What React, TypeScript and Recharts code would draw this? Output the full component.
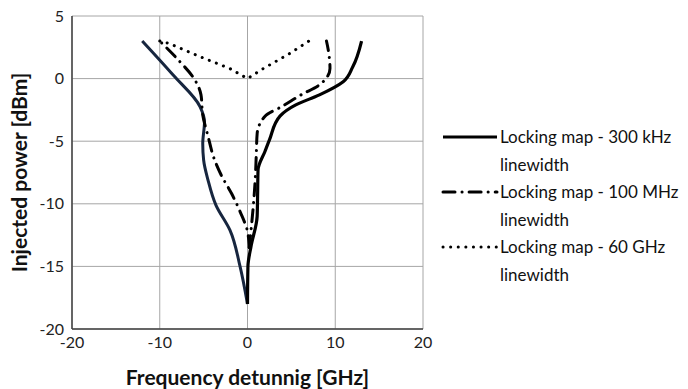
import { ScatterChart, Scatter, XAxis, YAxis, CartesianGrid } from 'recharts';

// x = frequency detuning [GHz], y = injected power [dBm]
const solidLeftX = [0, -0.85, -2.0, -3.6, -4.5, -5.0, -5.1, -4.9, -5.4, -8.5, -12.0];
const solidLeftY = [-18, -15, -12.1, -10.1, -8.1, -6.5, -5.2, -3.45, -2.25, 0.3, 3];
const solidRightX = [0, 0.05, 0.4, 1.1, 1.15, 1.2, 2.0, 2.5, 3.7, 5.5, 8.2, 10.9, 12.0, 13.0];
const solidRightY = [-18, -15, -13.4, -11, -9.4, -7.3, -5.8, -4.9, -3, -2.1, -1.3, -0.25, 0.95, 3];
const dashLeftX = [0.2, 0, -0.8, -1.8, -3.0, -3.8, -4.5, -5.1, -5.3, -6.0, -7.9, -10.0];
const dashLeftY = [-13.5, -12.2, -10.7, -9.2, -7.7, -6.4, -4.6, -2.9, -1.3, -0.1, 1.5, 3];
const dashRightX = [0.2, 0.9, 1.0, 1.1, 2.0, 4.0, 6.1, 8.2, 9.4, 9.2, 9.0];
const dashRightY = [-13.5, -7.8, -6.1, -4.4, -3.0, -2.2, -1.3, -0.5, 0.8, 2.3, 3];
const dotX = [-10, -8.9, -5.4, -2.0, 0, 1.8, 4.8, 7.0];
const dotY = [3, 2.8, 1.75, 0.8, 0, 0.8, 2.0, 3];

const xTicks = [-20, -10, 0, 10, 20];
const yTicks = [-20, -15, -10, -5, 0, 5];

const legendItems = [
  { name: 'Locking map - 300 kHz', dash: undefined },
  { name: 'Locking map - 100 MHz', dash: '12 7 0.1 7' },
  { name: 'Locking map - 60 GHz', dash: '0.1 7.5' },
];

const zip = (xs: number[], ys: number[]) => xs.map((x, i) => ({ x, y: ys[i] }));

const solidLeft = zip(solidLeftX, solidLeftY);
const solidRight = zip(solidRightX, solidRightY);
const dashLeft = zip(dashLeftX, dashLeftY);
const dashRight = zip(dashRightX, dashRightY);
const dots = zip(dotX, dotY);

const font = 'Lato, "Open Sans", sans-serif';

const LegendBox = () => (
  <div style={{ position: 'absolute', left: 440, top: 123, width: 248, fontFamily: font, fontSize: 17, color: '#111', lineHeight: '27.5px' }}>
    {legendItems.map((it) => (
      <div key={it.name} style={{ display: 'flex', alignItems: 'flex-start' }}>
        <svg width={60} height={27.5} style={{ flex: 'none' }}>
          <line
            x1={3}
            y1={14}
            x2={57}
            y2={14}
            stroke="#000"
            strokeWidth={3}
            strokeDasharray={it.dash}
            strokeLinecap={it.dash ? 'round' : 'butt'}
          />
        </svg>
        <div>
          {it.name}
          <br />
          linewidth
        </div>
      </div>
    ))}
  </div>
);

const noShape = () => <g />;

export default function App() {
  return (
    <div style={{ position: 'absolute', left: 0, top: 0, width: 688, height: 389, background: '#fff' }}>
      <ScatterChart width={688} height={389} margin={{ top: 16, right: 265, bottom: 0, left: 0 }}>
        <CartesianGrid stroke="#a6a6a6" strokeWidth={1} />
        <XAxis
          type="number"
          dataKey="x"
          domain={[-20, 20]}
          ticks={xTicks}
          interval={0}
          tickLine={false}
          axisLine={{ stroke: '#404040', strokeWidth: 1.5 }}
          tick={{ fill: '#222', fontSize: 16, fontFamily: font }}
          height={60}
          label={{ value: 'Frequency detunnig [GHz]', position: 'insideBottom', offset: 4, fill: '#111', fontSize: 21, fontWeight: 'bold', fontFamily: font }}
        />
        <YAxis
          type="number"
          dataKey="y"
          domain={[-20, 5]}
          ticks={yTicks}
          interval={0}
          tickLine={false}
          axisLine={{ stroke: '#404040', strokeWidth: 1.5 }}
          tick={{ fill: '#222', fontSize: 16, fontFamily: font }}
          width={72}
          label={{ value: 'Injected power [dBm]', angle: -90, position: 'insideLeft', offset: 20, style: { textAnchor: 'middle' }, fill: '#111', fontSize: 21, fontWeight: 'bold', fontFamily: font }}
        />
        <Scatter data={solidLeft} fill="#17263f" shape={noShape} isAnimationActive={false} lineJointType="monotoneY"
          line={{ stroke: '#17263f', strokeWidth: 3 }} />
        <Scatter data={solidRight} fill="#000" shape={noShape} isAnimationActive={false} lineJointType="monotoneY"
          line={{ stroke: '#000', strokeWidth: 3.2 }} />
        <Scatter data={dashLeft} fill="#000" shape={noShape} isAnimationActive={false} lineJointType="monotoneY"
          line={{ stroke: '#000', strokeWidth: 3, strokeDasharray: '12 7 0.1 7', strokeLinecap: 'round' }} />
        <Scatter data={dashRight} fill="#000" shape={noShape} isAnimationActive={false} lineJointType="monotoneY"
          line={{ stroke: '#000', strokeWidth: 3, strokeDasharray: '12 7 0.1 7', strokeLinecap: 'round' }} />
        <Scatter data={dots} fill="#000" shape={noShape} isAnimationActive={false} lineJointType="linear"
          line={{ stroke: '#000', strokeWidth: 3, strokeDasharray: '0.1 7.5', strokeLinecap: 'round' }} />
      </ScatterChart>
      <LegendBox />
    </div>
  );
}
